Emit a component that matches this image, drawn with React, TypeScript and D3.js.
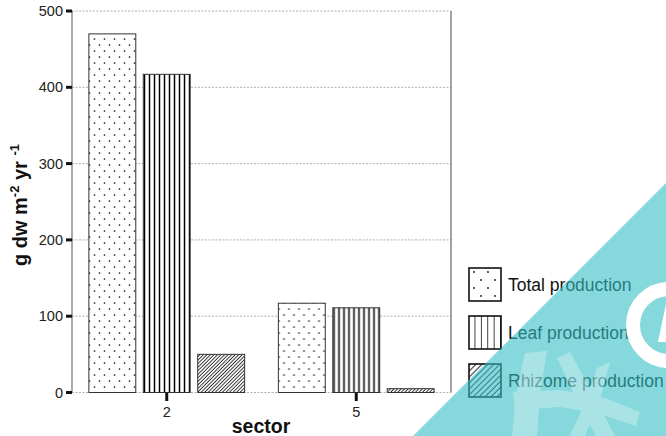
import React from 'react';
import * as d3 from 'd3';

const sectors = ['2', '5'];
const seriesNames = ['Total production', 'Leaf production', 'Rhizome production'];
const totalProduction = [470, 117];
const leafProduction = [417, 111];
const rhizomeProduction = [50, 5];
const yTicks = [0, 100, 200, 300, 400, 500];

const W = 666;
const H = 436;
const plot = { left: 72, right: 451, top: 11, bottom: 392.5 };
const FONT = '"Liberation Sans", Arial, Helvetica, sans-serif';

export default function App() {
  const seriesValues = [totalProduction, leafProduction, rhizomeProduction];
  const fills = ['url(#dots)', 'url(#vlines)', 'url(#hatch)'];
  const legendFills = ['url(#dotsL)', 'url(#vlinesL)', 'url(#hatchL)'];

  const y = d3.scaleLinear().domain([0, 500]).range([plot.bottom, plot.top]);
  const x0 = d3.scaleBand().domain(sectors).range([plot.left, plot.right]).padding(0);
  const x1 = d3
    .scaleBand()
    .domain(seriesNames)
    .range([0, x0.bandwidth()])
    .paddingInner(0.138)
    .paddingOuter(0.31);

  const legendY = [268, 316, 364];

  return (
    <svg
      width={W}
      height={H}
      viewBox={`0 0 ${W} ${H}`}
      style={{ position: 'absolute', left: 0, top: 0, background: '#fff' }}
      fontFamily={FONT}
    >
      <defs>
        <pattern id="dots" patternUnits="userSpaceOnUse" width={10} height={12}>
          <circle cx={2.5} cy={3} r={0.85} fill="#111" />
          <circle cx={7.5} cy={9} r={0.85} fill="#111" />
        </pattern>
        <pattern id="vlines" patternUnits="userSpaceOnUse" width={5} height={10}>
          <line x1={2.5} y1={0} x2={2.5} y2={10} stroke="#000" strokeWidth={1.5} />
        </pattern>
        <pattern
          id="hatch"
          patternUnits="userSpaceOnUse"
          width={2.5}
          height={10}
          patternTransform="rotate(45)"
        >
          <line x1={1.2} y1={0} x2={1.2} y2={10} stroke="#222" strokeWidth={0.9} />
        </pattern>
        <pattern id="dotsL" patternUnits="userSpaceOnUse" width={14} height={16} x={469} y={268}>
          <circle cx={5} cy={4} r={0.9} fill="#111" />
          <circle cx={12} cy={12} r={0.9} fill="#111" />
        </pattern>
        <pattern id="vlinesL" patternUnits="userSpaceOnUse" width={6.4} height={10} x={469}>
          <line x1={6.4} y1={0} x2={6.4} y2={10} stroke="#000" strokeWidth={1.5} />
        </pattern>
        <pattern
          id="hatchL"
          patternUnits="userSpaceOnUse"
          width={4.2}
          height={10}
          patternTransform="rotate(45)"
        >
          <line x1={2} y1={0} x2={2} y2={10} stroke="#222" strokeWidth={1} />
        </pattern>
      </defs>

      {/* gridlines */}
      {yTicks.map((t) => (
        <line
          key={'g' + t}
          x1={plot.left}
          x2={plot.right}
          y1={y(t)}
          y2={y(t)}
          stroke="#9a9a9a"
          strokeWidth={0.8}
          strokeDasharray="2,1.5"
        />
      ))}

      {/* bars */}
      {sectors.map((s, si) => (
        <g key={s} transform={`translate(${x0(s)},0)`}>
          {seriesNames.map((name, ki) => {
            const v = seriesValues[ki][si];
            return (
              <g key={name}>
                <rect
                  x={x1(name)}
                  y={y(v)}
                  width={x1.bandwidth()}
                  height={y(0) - y(v)}
                  fill="#fff"
                />
                <rect
                  x={x1(name)}
                  y={y(v)}
                  width={x1.bandwidth()}
                  height={y(0) - y(v)}
                  fill={fills[ki]}
                  stroke="#333"
                  strokeWidth={1}
                />
              </g>
            );
          })}
        </g>
      ))}

      {/* axis frame */}
      <line x1={plot.left} x2={plot.left} y1={plot.top} y2={plot.bottom} stroke="#555" strokeWidth={1} />
      <line x1={plot.right} x2={plot.right} y1={plot.top} y2={plot.bottom} stroke="#666" strokeWidth={1.2} />

      {/* y ticks */}
      {yTicks.map((t) => (
        <g key={'yt' + t}>
          <line x1={66} x2={plot.left} y1={y(t)} y2={y(t)} stroke="#111" strokeWidth={3} />
          <text x={63} y={y(t)} dy="0.35em" textAnchor="end" fontSize={14.5} fill="#222">
            {t}
          </text>
        </g>
      ))}

      {/* x ticks */}
      {sectors.map((s) => {
        const cx = (x0(s) as number) + x0.bandwidth() / 2;
        return (
          <g key={'xt' + s}>
            <line x1={cx} x2={cx} y1={plot.bottom} y2={401} stroke="#111" strokeWidth={3} />
            <text x={cx} y={417} textAnchor="middle" fontSize={14.5} fill="#222">
              {s}
            </text>
          </g>
        );
      })}

      {/* axis titles */}
      <text x={261} y={433} textAnchor="middle" fontSize={19.5} fontWeight="bold" fill="#111">
        sector
      </text>
      <text
        transform="translate(27,205) rotate(-90)"
        textAnchor="middle"
        fontSize={20}
        fontWeight="bold"
        fill="#111"
      >
        <tspan>g dw m</tspan>
        <tspan fontSize={13} dy={-8}>-2</tspan>
        <tspan dy={8}> yr </tspan>
        <tspan fontSize={13} dy={-8}>-1</tspan>
      </text>

      {/* legend */}
      {seriesNames.map((name, i) => (
        <g key={'lg' + name}>
          <rect x={469} y={legendY[i]} width={32} height={33} fill="#fff" />
          <rect
            x={469}
            y={legendY[i]}
            width={32}
            height={33}
            fill={legendFills[i]}
            stroke="#111"
            strokeWidth={1.6}
          />
          <text x={508} y={legendY[i] + 16.5} dy="0.36em" fontSize={17.5} fill="#111">
            {name}
          </text>
        </g>
      ))}

      {/* watermark overlay */}
      <polygon points={`666,183 413,436 666,436`} fill="#33bec5" opacity={0.6} />
      <g fill="#fff" opacity={0.3}>
        <path d="M525,353 L547,351 L540,395 L537,436 L512,436 L516,395 Z" />
        <path d="M557,358 L570,352 L592,392 L615,436 L596,436 L576,398 Z" />
        <path d="M513,392 L560,390 L605,398 L640,412 L636,426 L600,414 L560,407 L515,410 Z" />
        <path d="M597,368 L610,362 L600,400 L585,436 L570,436 L586,400 Z" />
      </g>
      <circle cx={669} cy={325} r={36} fill="none" stroke="#fff" strokeWidth={14} />
      <polygon points="658,342 666,304 666,342" fill="#fff" />
    </svg>
  );
}
